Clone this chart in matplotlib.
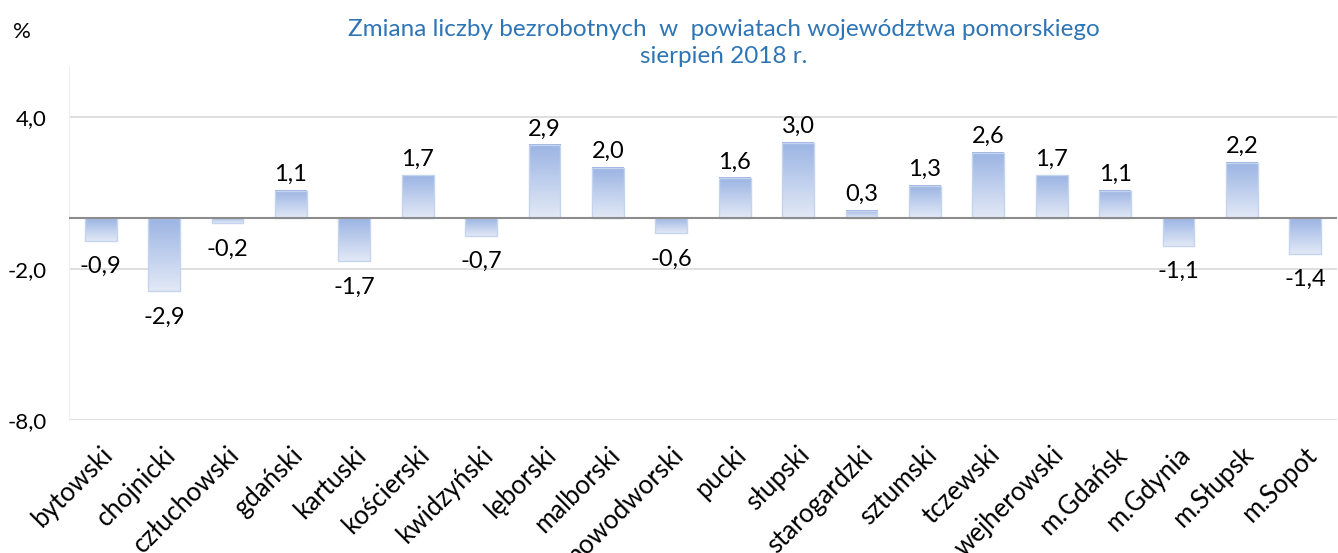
import matplotlib
matplotlib.use("Agg")
import matplotlib.pyplot as plt
import matplotlib.transforms as mtrans
import numpy as np
from matplotlib.colors import LinearSegmentedColormap

plt.rcParams['font.family'] = ['Lato', 'DejaVu Sans']

categories = ["bytowski", "chojnicki", "człuchowski", "gdański", "kartuski",
              "kościerski", "kwidzyński", "lęborski", "malborski", "nowodworski",
              "pucki", "słupski", "starogardzki", "sztumski", "tczewski",
              "wejherowski", "m.Gdańsk", "m.Gdynia", "m.Słupsk", "m.Sopot"]
values = [-0.9, -2.9, -0.2, 1.1, -1.7, 1.7, -0.7, 2.9, 2.0, -0.6,
          1.6, 3.0, 0.3, 1.3, 2.6, 1.7, 1.1, -1.1, 2.2, -1.4]
yticks = [-8.0, -2.0, 4.0]
title = "Zmiana liczby bezrobotnych  w  powiatach województwa pomorskiego\nsierpień 2018 r."

fig = plt.figure(figsize=(13.38, 5.53), dpi=100)
ax = fig.add_axes([69/1338, 1 - 420/553, (1337-69)/1338, (420-67)/553])

x = np.arange(len(categories))
bars = ax.bar(x, values, width=0.5, facecolor='none', edgecolor='#C5D4EE',
              linewidth=1.0, zorder=3)

cmap = LinearSegmentedColormap.from_list('g', ['#E2E9F6', '#9BB4E3'])
grad = np.linspace(1, 0, 100).reshape(-1, 1)
for b in bars:
    x0 = b.get_x(); w = b.get_width()
    y0 = b.get_y(); h = b.get_height()
    lo, hi = min(y0, y0 + h), max(y0, y0 + h)
    ax.imshow(grad, cmap=cmap, aspect='auto', extent=[x0, x0 + w, lo, hi],
              origin='upper', zorder=2, interpolation='bilinear')

for b, v in zip(bars, values):
    cx = b.get_x() + b.get_width() / 2
    txt = f"{v:.1f}".replace('.', ',')
    if v >= 0:
        ax.annotate(txt, (cx, v), xytext=(0, 4), textcoords='offset points',
                    ha='center', va='bottom', fontsize=17, color='#000000')
    else:
        ax.annotate(txt, (cx, v), xytext=(0, -11), textcoords='offset points',
                    ha='center', va='top', fontsize=17, color='#000000')

ax.set_xlim(-0.5, len(categories) - 0.5)
ax.set_ylim(-8, 6)
ax.set_yticks(yticks)
ax.set_yticklabels([f"{t:.1f}".replace('.', ',') for t in yticks], fontsize=16)
ax.yaxis.grid(True, color='#D9D9D9', linewidth=1.2, zorder=0)
ax.set_axisbelow(True)
ax.axhline(0, color='#8C8C8C', linewidth=1.5, zorder=4)
ax.tick_params(axis='y', length=0, pad=16)
ax.tick_params(axis='x', length=0, pad=8)
ax.set_xticks(x)
ax.set_xticklabels(categories, rotation=45, ha='right', rotation_mode='anchor',
                   fontsize=18.5)
offset = mtrans.ScaledTranslation(8/100, -20/100, fig.dpi_scale_trans)
for lbl in ax.get_xticklabels():
    lbl.set_verticalalignment('center')
    lbl.set_transform(lbl.get_transform() + offset)
for s in ['top', 'right', 'bottom']:
    ax.spines[s].set_visible(False)
ax.spines['left'].set_color('#EEEEEE')

fig.text(724/1338, 1 - 43/553, title, ha='center', va='center', fontsize=17.5,
         color='#2E75B6', linespacing=1.4)
fig.text(22/1338, 1 - 32/553, "%", ha='center', va='center', fontsize=16)

fig.savefig("out.png", dpi=100)
